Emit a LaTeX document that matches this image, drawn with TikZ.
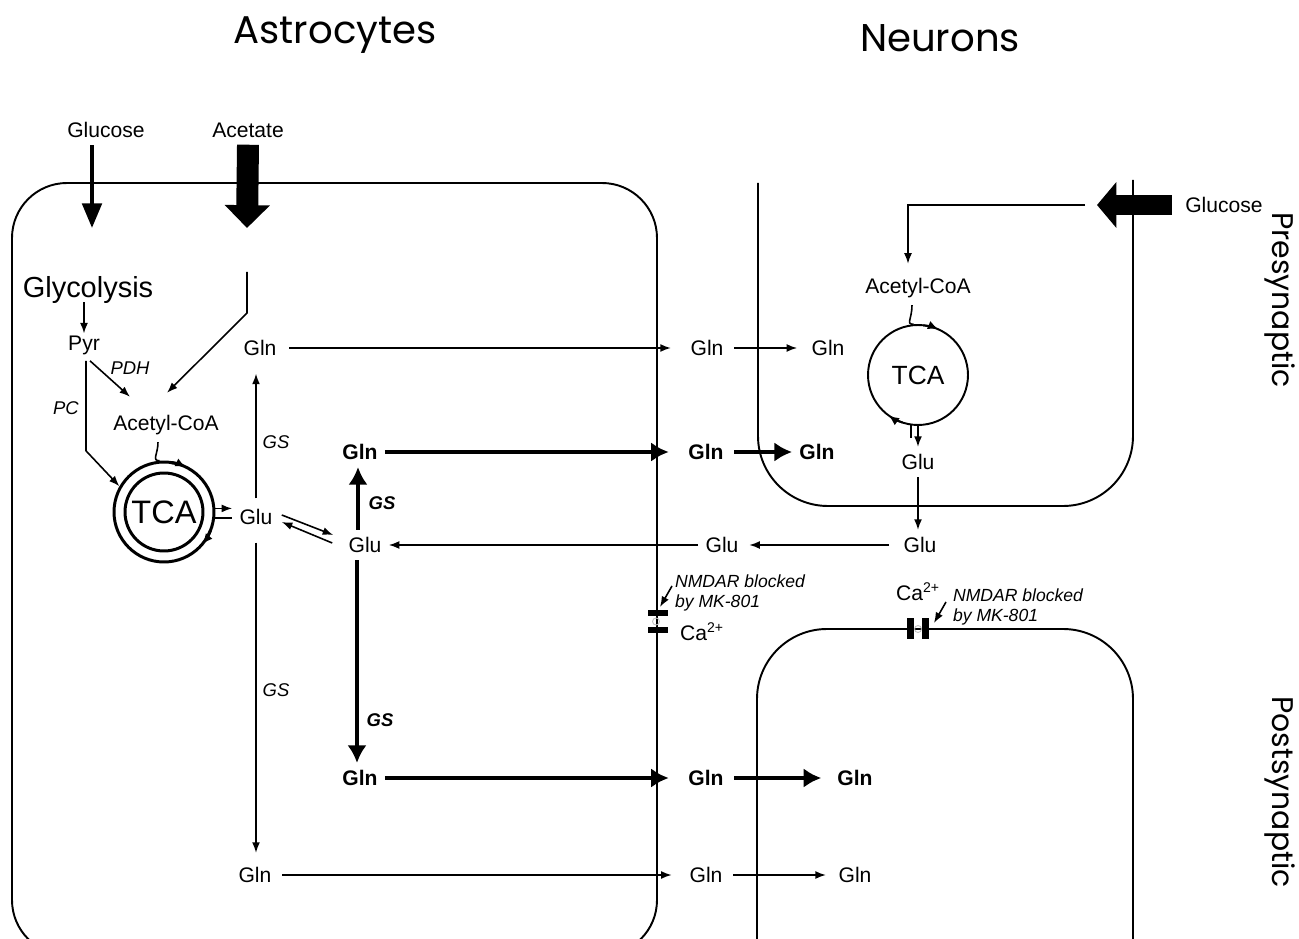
\documentclass[tikz,border=0pt]{standalone}
\usepackage{fontspec}
\setmainfont{Liberation Sans}
\newfontfamily\titlefont{Poppins}
\usetikzlibrary{arrows.meta}

\begin{document}
\begin{tikzpicture}[x=0.02cm, y=-0.02cm,
  lbl/.style={inner sep=4pt, font=\fontsize{12}{14}\selectfont},
  blbl/.style={inner sep=4pt, font=\fontsize{12}{14}\selectfont\bfseries},
  enz/.style={inner sep=1pt, font=\fontsize{10.5}{12}\selectfont\itshape},
  benz/.style={inner sep=1pt, font=\fontsize{10.5}{12}\selectfont\bfseries\itshape},
  note/.style={inner sep=1pt, align=left, font=\fontsize{10}{11.5}\selectfont\itshape},
  title/.style={font=\titlefont\fontsize{22}{26}\selectfont},
  side/.style={font=\titlefont\fontsize{17}{20}\selectfont, rotate=-90},
  flow/.style={line width=0.9pt, -{Latex[length=6pt,width=4.5pt]}},
  bflow/.style={line width=2.1pt, -{Latex[length=10pt,width=11pt]}},
  memb/.style={line width=1.1pt},
  cyc/.style={-{Latex[length=6pt,width=5pt]}},
]
\useasboundingbox (0,0) rectangle (1299,939);
\clip (0,0) rectangle (1299,939);

\node[title] (astro) at (335,35) {Astrocytes};
\node[title] (neur) at (940,38) {Neurons};
\node[side] (pre) at (1280,300) {Presynaptic};
\node[side] (post) at (1280,792) {Postsynaptic};

% cell membranes
\draw[memb, rounded corners=1.1cm] (12,183) rectangle (657,955);
\draw[memb, rounded corners=1.4cm] (758,183) -- (758,506) -- (1133,506) -- (1133,180);
\draw[memb, rounded corners=1.4cm] (757,960) -- (757,629) -- (1133,629) -- (1133,960);

% astrocyte
\node[lbl] (aglc) at (106,130) {Glucose};
\node[lbl] (aac) at (248,130) {Acetate};
\node[lbl, font=\fontsize{16.5}{18}\selectfont] (glyc) at (88,290) {Glycolysis};
\node[lbl] (pyr) at (84,345) {Pyr};
\node[lbl] (accoa) at (166,425) {Acetyl-CoA};
\node[circle, draw, line width=1.7pt, minimum size=2cm, font=\fontsize{18.5}{20}\selectfont] (tca) at (164,512) {TCA};
\draw[line width=1.7pt] (tca.center) circle (0.78cm);
\node[lbl] (glu1) at (256,517) {Glu};
\node[lbl] (glu2) at (365,545) {Glu};
\node[lbl] (glnA) at (260,348) {Gln};
\node[blbl] (glnB) at (360,452) {Gln};
\node[blbl] (glnC) at (360,778) {Gln};
\node[lbl] (glnD) at (255,875) {Gln};

\node[enz] (pdh) at (130,368) {PDH};
\node[enz] (pc) at (66,408) {PC};
\node[enz] (gsA) at (276,442) {GS};
\node[enz] (gsB) at (276,690) {GS};
\node[benz] (gsC) at (382,503) {GS};
\node[benz] (gsD) at (380,720) {GS};

% cleft
\node[lbl] (cglnA) at (707,348) {Gln};
\node[blbl] (cglnB) at (706,452) {Gln};
\node[lbl] (cglu) at (722,545) {Glu};
\node[blbl] (cglnC) at (706,778) {Gln};
\node[lbl] (cglnD) at (706,875) {Gln};

% neurons
\node[lbl] (nglnA) at (828,348) {Gln};
\node[blbl] (nglnB) at (817,452) {Gln};
\node[lbl] (nglc) at (1224,205) {Glucose};
\node[lbl] (nacoa) at (918,288) {Acetyl-CoA};
\node[circle, draw, line width=1.1pt, minimum size=2cm, font=\fontsize{15}{17}\selectfont] (ntca) at (918,375) {TCA};
\node[lbl] (nglu1) at (918,462) {Glu};
\node[lbl] (nglu2) at (920,545) {Glu};
\node[blbl] (nglnC) at (855,778) {Gln};
\node[lbl] (nglnD) at (855,875) {Gln};

% NMDA receptors
\node[note, anchor=west] (nmdaA) at (673,593) {NMDAR blocked\\by MK-801};
\node[note, anchor=west] (nmdaB) at (951,607) {NMDAR blocked\\by MK-801};
\node[lbl, anchor=west, inner sep=1pt] (caA) at (678,632) {Ca\textsuperscript{2+}};
\node[lbl, inner sep=1pt] (caB) at (918,592) {Ca\textsuperscript{2+}};
\fill (648,610) rectangle (668,616);
\fill (648,627) rectangle (668,633);
\draw[gray!50, line width=0.5pt] (656,621.5) circle (0.07cm);
\fill (907,618) rectangle (914,639);
\fill (922,618) rectangle (929,639);
\draw[gray!50, line width=0.5pt] (918,629) circle (0.07cm);
\coordinate (chanA) at (660,607);
\coordinate (chanB) at (934,623);
\draw[flow] ([shift={(-1,-7)}]nmdaA.west) -- (chanA);
\draw[flow] ([shift={(-5,-5)}]nmdaB.west) -- (chanB);

% uptake
\coordinate (glcin) at (92,228);
\coordinate (acin) at (247,228);
\coordinate (acout) at (247,272);
\coordinate (ntip) at (1097,205);
\coordinate (nline) at (1085,205);
\draw[line width=2.3pt, -{Triangle[length=14pt,width=11pt]}] (glcin |- aglc.south) -- (glcin);
\draw[line width=12.5pt, -{Triangle[length=13pt,width=25pt]}] (aac.south) -- (acin);
\draw[line width=11.3pt, -{Triangle[length=11pt,width=25.5pt]}] ([shift={(-6,0)}]nglc.west) -- (ntip);

% astrocyte pathways
\draw[flow] (acout) -- ++(0,41) -- ([shift={(1,-15)}]accoa.north);
\draw[flow, shorten <=-5pt, shorten >=-3pt] (glyc.south -| pyr) -- (pyr.north);
\draw[flow] ([shift={(6,-1)}]pyr.south) -- ([shift={(-36,-11)}]accoa.north);
\draw[flow] ([shift={(2,-1)}]pyr.south) -- ++(0,90) -- (tca.150);
\draw[line width=0.9pt] ([shift={(-8,0)}]accoa.south) .. controls +(0,12) and +(-8,0) .. (tca.95);
\draw[line width=1.7pt, cyc] (tca.center) ++(82:1cm) arc[start angle=82, end angle=64, radius=1cm];
\draw[line width=1.7pt, cyc] (tca.center) ++(-22:1cm) arc[start angle=-22, end angle=-40, radius=1cm];
\draw[flow] (tca.4) -- (tca.4 -| glu1.west);
\draw[line width=0.9pt] (tca.-7) -- (tca.-7 -| glu1.west);
\draw[flow] ([shift={(2,-2)}]glu1.east) -- ([shift={(-8,-10)}]glu2.west);
\draw[flow] ([shift={(-9,-2)}]glu2.west) -- ([shift={(2,5)}]glu1.east);
\draw[flow, shorten <=2pt, shorten >=6pt] (glu1.north) -- (glu1.north |- glnA.south);
\draw[flow, shorten <=6pt, shorten >=4pt] (glu1.south) -- (glu1.south |- glnD.north);
\draw[bflow] ([xshift=-0.14cm]glu2.north) -- ([xshift=-0.14cm]glu2.north |- glnB.south);
\draw[bflow] ([xshift=-0.16cm]glu2.south) -- ([xshift=-0.16cm]glu2.south |- glnC.north);

% shuttle
\draw[flow, shorten <=3pt, shorten >=7pt] (glnA) -- (cglnA);
\draw[flow, shorten <=2pt, shorten >=4pt] (cglnA) -- (nglnA);
\draw[bflow, shorten >=7pt] (glnB) -- (cglnB);
\draw[bflow, shorten <=2pt] (cglnB) -- (nglnB);
\draw[flow] (cglu) -- (glu2);
\draw[flow, shorten <=4pt, shorten >=2pt] (nglu2) -- (cglu);
\draw[bflow, shorten >=7pt] (glnC) -- (cglnC);
\draw[bflow, shorten <=2pt, shorten >=5pt] (cglnC) -- (nglnC);
\draw[flow, shorten <=2pt, shorten >=6pt] (glnD) -- (cglnD);
\draw[flow, shorten <=2pt, shorten >=3pt] (cglnD) -- (nglnD);

% neuron pathways
\draw[flow, shorten >=4pt] (nline) -| ([xshift=-0.2cm]nacoa.north);
\draw[line width=0.9pt] ([shift={(-6,0)}]nacoa.south) .. controls +(0,14) and +(-8,0) .. (ntca.95);
\draw[line width=1.1pt, cyc] (ntca.center) ++(84:1cm) arc[start angle=84, end angle=66, radius=1cm];
\draw[line width=1.1pt, cyc] (ntca.center) ++(252:1cm) arc[start angle=252, end angle=234, radius=1cm];
\draw[line width=0.9pt] (ntca.262) -- ++(0,13);
\draw[flow] (ntca.270) -- (nglu1.north);
\draw[flow] (nglu1.south) -- (nglu1.south |- nglu2.north);
\end{tikzpicture}
\end{document}
